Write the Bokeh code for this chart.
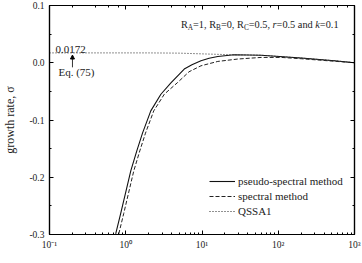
from bokeh.plotting import figure
from bokeh.models import (Range1d, LogAxis, LinearAxis, FixedTicker, PrintfTickFormatter,
                          Label, Arrow, NormalHead, LogTicker, CustomJSTickFormatter)
from bokeh.embed import file_html
from bokeh.resources import INLINE

# ---- data ----
tau_ps = [0.738, 0.859, 1.0, 1.164, 1.396, 1.659, 2.13, 2.89, 3.91, 5.85, 7.38, 9.7, 12.4, 16.1, 26.3, 59.7, 201, 546, 1000]
sig_ps = [-0.299, -0.263, -0.226, -0.189, -0.154, -0.123, -0.084, -0.055, -0.035, -0.011, -0.0035, 0.0035, 0.0079, 0.011, 0.014, 0.0131, 0.0082, 0.0035, 0.0]

tau_sp = [0.81, 0.942, 1.095, 1.274, 1.528, 1.815, 2.33, 3.21, 4.79, 6.75, 9.7, 16.1, 29.5, 59.7, 110, 201, 546, 1000]
sig_sp = [-0.299, -0.263, -0.226, -0.189, -0.154, -0.123, -0.084, -0.0548, -0.0345, -0.0158, -0.0053, 0.0023, 0.0065, 0.0093, 0.0093, 0.007, 0.0026, 0.0]

tau_qs = [0.1, 2, 5, 10, 16, 24, 40, 59.7, 201, 546, 1000]
sig_qs = [0.0172, 0.0172, 0.0168, 0.0155, 0.0147, 0.0140, 0.0136, 0.0131, 0.0082, 0.0035, 0.0]

y_ticks = [-0.3, -0.2, -0.1, 0.0, 0.1]
y_minor = [-0.25, -0.15, -0.05, 0.05]
x_tick_labels = {0.1: "10\u207b\u00b9", 1: "10\u2070", 10: "10\u00b9", 100: "10\u00b2", 1000: "10\u00b3"}

FONT = "Liberation Serif"
TXT = "#222222"

p = figure(width=362, height=263, x_axis_type="log",
           x_range=Range1d(0.1, 1000), y_range=Range1d(-0.3, 0.1),
           output_backend="svg", toolbar_location=None,
           min_border_left=49, min_border_right=8, min_border_top=5, min_border_bottom=29)
p.xgrid.visible = False
p.ygrid.visible = False
p.outline_line_color = "black"
p.outline_line_width = 1.2
p.background_fill_color = "white"
p.border_fill_color = "white"

def style_axis(ax, labels=True):
    ax.axis_line_color = "black"
    ax.axis_line_width = 1.2
    ax.major_tick_in = 4
    ax.major_tick_out = 0
    ax.minor_tick_in = 2
    ax.minor_tick_out = 0
    ax.major_tick_line_color = "black"
    ax.minor_tick_line_color = "black"
    ax.major_label_text_font = FONT
    ax.major_label_text_color = TXT
    ax.major_label_text_font_size = "9.5px"
    if not labels:
        ax.formatter = CustomJSTickFormatter(code="return ''")
        ax.major_label_standoff = 0

xb = p.xaxis[0]
style_axis(xb)
xb.major_label_overrides = x_tick_labels
xb.major_label_standoff = 5

yl = p.yaxis[0]
style_axis(yl)
yl.ticker = FixedTicker(ticks=y_ticks, minor_ticks=y_minor)
yl.formatter = PrintfTickFormatter(format="%.1f")
yl.major_label_standoff = 5
yl.axis_label = "growth rate, \u03c3"
yl.axis_label_text_font = FONT
yl.axis_label_text_font_style = "normal"
yl.axis_label_text_font_size = "12px"
yl.axis_label_text_color = TXT
yl.axis_label_standoff = 9

xt = LogAxis(ticker=LogTicker())
style_axis(xt, labels=False)
p.add_layout(xt, "above")
yr = LinearAxis(ticker=FixedTicker(ticks=y_ticks, minor_ticks=y_minor))
style_axis(yr, labels=False)
p.add_layout(yr, "right")

p.line(tau_ps, sig_ps, line_color="#111111", line_width=1.1, legend_label="pseudo-spectral method")
p.line(tau_sp, sig_sp, line_color="#222222", line_width=1.0, line_dash="4 2", legend_label="spectral method")
p.line(tau_qs, sig_qs, line_color="#222222", line_width=1.0, line_dash="1 2", legend_label="QSSA1")

lg = p.legend[0]
lg.location = (160, 16)
lg.border_line_alpha = 0
lg.background_fill_alpha = 0
lg.padding = 0
lg.margin = 0
lg.spacing = 1
lg.glyph_width = 26
lg.glyph_height = 14
lg.label_height = 14
lg.label_standoff = 3
lg.label_text_font = FONT
lg.label_text_font_size = "11px"
lg.label_text_color = TXT

# x-axis title (placed as a label so the frame keeps its size)
p.add_layout(Label(x=11.3, y=-0.3, y_offset=-15, text="\u03c4", text_font=FONT, text_font_size="12px",
                   text_color=TXT, text_align="center", text_baseline="top"))

# annotations
p.add_layout(Label(x=0.12, y=0.0231, text="0.0172", text_font=FONT, text_font_size="11px",
                   text_color=TXT, text_baseline="alphabetic"))
p.add_layout(Label(x=0.131, y=-0.017, text="Eq. (75)", text_font=FONT, text_font_size="11px",
                   text_color=TXT, text_baseline="middle"))
p.add_layout(Arrow(x_start=0.2, y_start=-0.008, x_end=0.2, y_end=0.0135,
                   line_color="black", line_width=0.8,
                   end=NormalHead(size=4, fill_color="black", line_color="black")))

# parameter text with subscripts and italics
W = {"R": .667, "A": .722, "B": .667, "C": .667, "=": .564, "0": .5, "1": .5, "5": .5,
     ",": .25, " ": .25, ".": .25, "a": .444, "n": .5, "d": .5, "r": .389, "k": .444}
S, s = 10.3, 7.3
pieces = [("R", S, "normal", 0), ("A", s, "normal", -3), ("=1, R", S, "normal", 0),
          ("B", s, "normal", -3), ("=0, R", S, "normal", 0), ("C", s, "normal", -3),
          ("=0.5, ", S, "normal", 0), ("r", S, "italic", 0), ("=0.5 and ", S, "normal", 0),
          ("k", S, "italic", 0), ("=0.1", S, "normal", 0)]
off = 0.0
for t, size, style, dy in pieces:
    p.add_layout(Label(x=5.29, y=0.0668, x_offset=off, y_offset=dy, text=t.rstrip(),
                       text_font=FONT, text_font_size=f"{size}px", text_font_style=style,
                       text_color=TXT, text_baseline="alphabetic"))
    off += sum(W[c] for c in t) * size

open("out.html", "w").write(file_html(p, INLINE))
